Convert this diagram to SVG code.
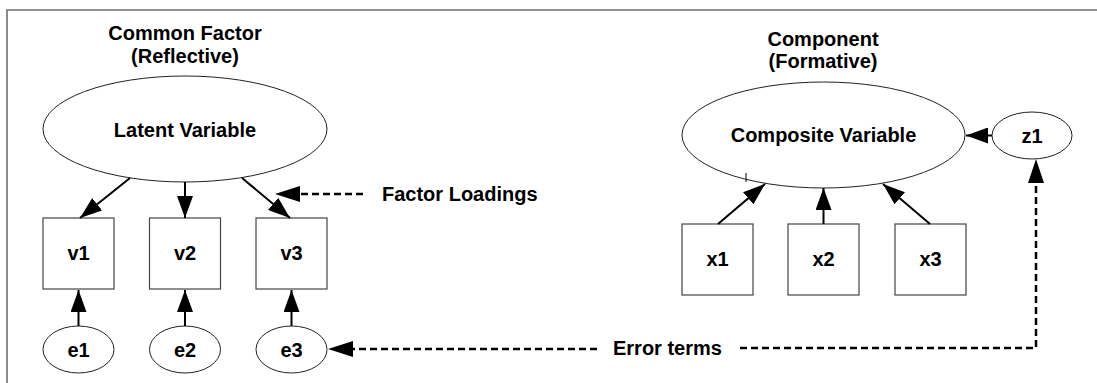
<svg xmlns="http://www.w3.org/2000/svg" width="1097" height="383" viewBox="0 0 1097 383">
  <style>
    text { font-family: "Liberation Sans", Arial, sans-serif; font-weight: bold; font-size: 20px; fill: #000; text-anchor: middle; }
    .lbl { text-anchor: start; }
    .shape { fill: #fff; stroke: #222; stroke-width: 1; }
    .box { fill: #fff; stroke: #444; stroke-width: 1.2; }
    .arrow { stroke: #000; stroke-width: 2; fill: none; marker-end: url(#head); }
    .dash { stroke: #000; stroke-width: 2.5; fill: none; stroke-dasharray: 7 4; }
    .frame { stroke: #6e6e6e; stroke-width: 1.6; fill: none; }
  </style>
  <defs>
    <marker id="head" markerUnits="userSpaceOnUse" markerWidth="24" markerHeight="16" refX="22" refY="8" orient="auto">
      <path d="M0,0 L22,8 L0,16 Z" fill="#000"/>
    </marker>
  </defs>

  <rect width="1097" height="383" fill="#fff"/>
  <path class="frame" d="M7,383 V10 H1097"/>

  <!-- titles -->
  <text x="185" y="40">Common Factor</text>
  <text x="185" y="63">(Reflective)</text>
  <text x="823" y="46">Component</text>
  <text x="823" y="68">(Formative)</text>

  <!-- reflective model -->
  <g id="latent"><ellipse class="shape" cx="185" cy="129" rx="142" ry="53"/><text x="185" y="137">Latent Variable</text></g>
  <g id="v1"><rect class="box" x="43" y="218" width="71" height="71"/><text x="78.5" y="260">v1</text></g>
  <g id="v2"><rect class="box" x="149.5" y="218" width="71" height="71"/><text x="185" y="260">v2</text></g>
  <g id="v3"><rect class="box" x="256" y="218" width="71" height="71"/><text x="291.5" y="260">v3</text></g>
  <g id="e1"><ellipse class="shape" cx="78.5" cy="349.5" rx="35.5" ry="23.5"/><text x="78.5" y="357">e1</text></g>
  <g id="e2"><ellipse class="shape" cx="185" cy="349.5" rx="35.5" ry="23.5"/><text x="185" y="357">e2</text></g>
  <g id="e3"><ellipse class="shape" cx="291.5" cy="349.5" rx="35.5" ry="23.5"/><text x="291.5" y="357">e3</text></g>

  <!-- formative model -->
  <g id="composite"><ellipse class="shape" cx="823.5" cy="135" rx="141.5" ry="53"/><text x="823.5" y="142">Composite Variable</text></g>
  <g id="z1"><ellipse class="shape" cx="1032" cy="135.5" rx="40" ry="23.5"/><text x="1032" y="143">z1</text></g>
  <g id="x1"><rect class="box" x="682" y="224" width="71" height="71"/><text x="717.5" y="266">x1</text></g>
  <g id="x2"><rect class="box" x="788" y="224" width="71" height="71"/><text x="823.5" y="266">x2</text></g>
  <g id="x3"><rect class="box" x="895" y="224" width="71" height="71"/><text x="930.5" y="266">x3</text></g>

  <!-- annotations -->
  <g id="factor-loadings"><text class="lbl" x="382" y="201">Factor Loadings</text></g>
  <g id="error-terms"><text class="lbl" x="613" y="355">Error terms</text></g>

  <g id="connectors">
    <line class="arrow" x1="130" y1="178" x2="80" y2="218"/>
    <line class="arrow" x1="185" y1="182" x2="185" y2="218"/>
    <line class="arrow" x1="242" y1="178" x2="290" y2="218"/>
    <line class="arrow" x1="78.5" y1="326" x2="78.5" y2="290"/>
    <line class="arrow" x1="185" y1="326" x2="185" y2="290"/>
    <line class="arrow" x1="291.5" y1="326" x2="291.5" y2="290"/>

    <line class="arrow" x1="718" y1="224" x2="765" y2="184"/>
    <line class="arrow" x1="823.5" y1="224" x2="823.5" y2="188"/>
    <line class="arrow" x1="930" y1="224" x2="883" y2="184"/>
    <line class="arrow" x1="992" y1="135.5" x2="966" y2="135.5"/>
    <line x1="746" y1="173" x2="746" y2="182" stroke="#000" stroke-width="1"/>

    <!-- dashed callouts -->
    <line class="dash" x1="363" y1="194" x2="300" y2="194"/>
    <path d="M275,194 L300,186 L300,202 Z" fill="#000"/>
    <line class="dash" x1="597" y1="349" x2="352" y2="349"/>
    <path d="M328,349 L353,341 L353,357 Z" fill="#000"/>
    <path class="dash" d="M740,348 H1036 V182"/>
    <path d="M1036,159 L1028,183 L1044,183 Z" fill="#000"/>
  </g>
</svg>
